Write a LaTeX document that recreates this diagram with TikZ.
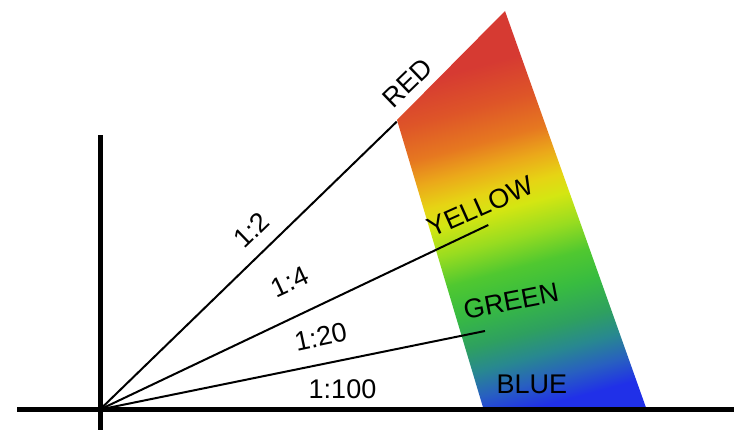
\documentclass[tikz,border=0pt]{standalone}
\usepackage{fontspec}
\setmainfont{Liberation Sans}
\definecolor{c0}{HTML}{2030E8}
\definecolor{c1}{HTML}{2030E8}
\definecolor{c2}{HTML}{2860C0}
\definecolor{c3}{HTML}{288890}
\definecolor{c4}{HTML}{2EA060}
\definecolor{c5}{HTML}{38BC40}
\definecolor{c6}{HTML}{50C830}
\definecolor{c7}{HTML}{98DC20}
\definecolor{c8}{HTML}{D4E612}
\definecolor{c9}{HTML}{E6D414}
\definecolor{c10}{HTML}{EBA81A}
\definecolor{c11}{HTML}{E67820}
\definecolor{c12}{HTML}{DE5528}
\definecolor{c13}{HTML}{D63A32}
\pgfdeclareverticalshading{rainbow}{400pt}{color(0pt)=(c0); color(60pt)=(c1); color(85pt)=(c2); color(110pt)=(c3); color(135pt)=(c4); color(170pt)=(c5); color(200pt)=(c6); color(230pt)=(c7); color(260pt)=(c8); color(280pt)=(c9); color(305pt)=(c10); color(330pt)=(c11); color(365pt)=(c12); color(405pt)=(c13); color(500pt)=(c13)}
\begin{document}
\begin{tikzpicture}[x=1pt,y=-1pt,
  lbl/.style={font=\fontsize{27}{30}\selectfont, inner sep=0pt},
  ray/.style={line width=2pt},
  axisline/.style={line width=5pt}]
\useasboundingbox (0,0) rectangle (734,430);
% band corners
\coordinate (A) at (397,120);
\coordinate (B) at (505,11);
\coordinate (C) at (646.5,409);
\coordinate (D) at (483.5,409);
\begin{scope}
  \clip (A) -- (B) -- (C) -- (D) -- cycle;
  \node[inner sep=0pt, rotate=15] (band) at (520,215) {\pgfuseshading{rainbow}};
\end{scope}
% axes
\coordinate (O) at (100,409.5);
\coordinate (vtop) at (100,135.5);
\coordinate (vbot) at (100,430);
\coordinate (hl) at (17,409.5);
\coordinate (hr) at (734,409.5);
\draw[axisline] (vtop) -- (vbot);
\draw[axisline] (hl) -- (hr);
% rays
\coordinate (R) at (396.7,121.7);
\coordinate (Y) at (488.3,225);
\coordinate (G) at (485,331);
\draw[ray] (O) -- (R);
\draw[ray] (O) -- (Y);
\draw[ray] (O) -- (G);
% labels
\node[lbl, rotate=44] (tred) at (407.5,83) {RED};
\node[lbl, rotate=24] (tyellow) at (480.5,206.5) {YELLOW};
\node[lbl, rotate=11] (tgreen) at (511,301) {GREEN};
\node[lbl] (tblue) at (531.8,384.7) {BLUE};
\node[lbl, rotate=44] (t2) at (251.7,230) {1:2};
\node[lbl, rotate=25] (t4) at (290,281.7) {1:4};
\node[lbl, rotate=12] (t20) at (320.7,336.7) {1:20};
\node[lbl] (t100) at (342.5,389.2) {1:100};
\end{tikzpicture}
\end{document}
